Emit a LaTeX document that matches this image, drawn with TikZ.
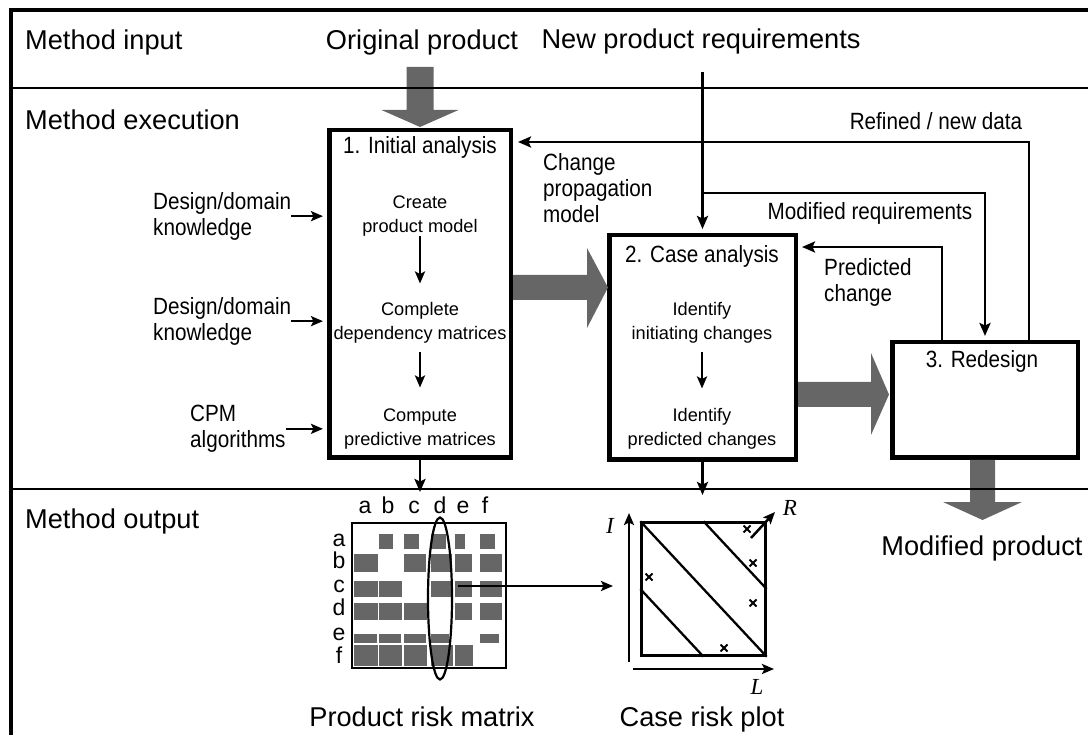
\documentclass[tikz,border=0pt]{standalone}
\usepackage{fontspec}
\setmainfont{Liberation Sans}
\newfontfamily\midf[FakeStretch=0.88]{Liberation Sans}
\newfontfamily\tmsf{Liberation Serif}
\usetikzlibrary{arrows.meta}
\definecolor{blockgray}{RGB}{102,102,102}
\begin{document}
\begin{tikzpicture}[x=1pt,y=-1pt,
  big/.style={font=\fontsize{27.2}{32}\selectfont, inner sep=0pt},
  mid/.style={font=\midf\fontsize{23.5}{26}\selectfont, inner sep=0pt, align=left},
  sml/.style={font=\fontsize{18.2}{24}\selectfont, inner sep=0pt, align=center},
  lett/.style={font=\fontsize{23}{26}\selectfont, inner sep=0pt},
  axl/.style={font=\tmsf\itshape\fontsize{23}{26}\selectfont, inner sep=0pt},
  procbox/.style={draw, line width=4.5pt, inner sep=0pt},
  arr/.style={line width=2.8pt, -{Stealth[length=13pt,width=11pt,inset=2.5pt]}},
  sarr/.style={line width=2.5pt, -{Stealth[length=12pt,width=10pt,inset=2.5pt]}},
  blk/.style={fill=blockgray},
  cell/.style={fill=blockgray, draw=white, line width=0.8pt},
  cross/.style={line width=2pt}
]
\useasboundingbox (0,0) rectangle (1088,735);

% ---- section labels
\node[big, anchor=base west] (lin)  at (25,50)  {Method input};
\node[big, anchor=base west] (lex)  at (25,130) {Method execution};
\node[big, anchor=base west] (lout) at (25,528) {Method output};
\node[big, anchor=base] (orig) at (422,50) {Original product};
\node[big, anchor=base] (npr)  at (701,49) {New product requirements};
\node[big, anchor=base] (modp) at (982,555) {Modified product};
\node[big, anchor=base] (prm)  at (422,726) {Product risk matrix};
\node[big, anchor=base] (crp)  at (702,726) {Case risk plot};

% ---- process boxes
\node[procbox, minimum width=181.5pt, minimum height=327.5pt] (box1) at (420,294) {};
\node[procbox, minimum width=186.5pt, minimum height=224.5pt] (box2) at (702.5,347.5) {};
\node[procbox, minimum width=185.5pt, minimum height=115.5pt] (box3) at (985,400) {};

\node[mid, anchor=base] (t1) at (420,154) {1. Initial analysis};
\node[mid, anchor=base] (t2) at (702,263) {2. Case analysis};
\node[mid, anchor=base] (t3) at (982,368) {3. Redesign};

\node[sml, anchor=north] (create)   at (420,195.5) {Create\\product model};
\node[sml, anchor=north] (complete) at (420,302.5) {Complete\\dependency matrices};
\node[sml, anchor=north] (compute)  at (420,408.5) {Compute\\predictive matrices};
\node[sml, anchor=north] (ini)  at (702,302.5) {Identify\\initiating changes};
\node[sml, anchor=north] (pred) at (702,408.5) {Identify\\predicted changes};

\draw[sarr, shorten >=19pt] (create.south) -- (complete.north);
\draw[sarr, shorten <=8pt, shorten >=21pt] (complete.south) -- (compute.north);
\draw[sarr, shorten <=8pt, shorten >=20pt] (ini.south) -- (pred.north);

% ---- left inputs
\node[mid, anchor=north west] (dk1) at (153,192) {Design/domain\\knowledge};
\node[mid, anchor=north west] (dk2) at (153,297) {Design/domain\\knowledge};
\node[mid, anchor=north west] (cpm) at (190,405) {CPM\\algorithms};
\draw[sarr, shorten >=4pt] (dk1.east) -- (dk1.east -| box1.west);
\draw[sarr, shorten >=4pt] (dk2.east) -- (dk2.east -| box1.west);
\draw[sarr, shorten >=4pt] (cpm.east) -- (cpm.east -| box1.west);

% ---- gray block arrows
\fill[blk] ([shift={(-13.5,-61)}]box1.north) -- ([shift={(13.5,-61)}]box1.north)
  -- ([shift={(13.5,-18)}]box1.north) -- ([shift={(38.5,-18)}]box1.north)
  -- ([shift={(0,-1)}]box1.north) -- ([shift={(-38.5,-18)}]box1.north)
  -- ([shift={(-13.5,-18)}]box1.north) -- cycle;
\fill[blk] ([shift={(0,-19)}]box1.east) -- ([shift={(74,-19)}]box1.east)
  -- ([shift={(74,-46)}]box1.east) -- ([shift={(95,-6.5)}]box1.east)
  -- ([shift={(74,34)}]box1.east) -- ([shift={(74,6)}]box1.east)
  -- ([shift={(0,6)}]box1.east) -- cycle;
\fill[blk] ([shift={(0,34.5)}]box2.east) -- ([shift={(73,34.5)}]box2.east)
  -- ([shift={(73,5.5)}]box2.east) -- ([shift={(91,47)}]box2.east)
  -- ([shift={(73,87.5)}]box2.east) -- ([shift={(73,59.5)}]box2.east)
  -- ([shift={(0,59.5)}]box2.east) -- cycle;
\fill[blk] ([shift={(-15,0)}]box3.south) -- ([shift={(10,0)}]box3.south)
  -- ([shift={(10,42)}]box3.south) -- ([shift={(37,42)}]box3.south)
  -- ([shift={(-2.5,60)}]box3.south) -- ([shift={(-42,42)}]box3.south)
  -- ([shift={(-15,42)}]box3.south) -- cycle;

% ---- frame
\draw[line width=4pt] (1088,10) -- (11,10) -- (11,735);
\draw[line width=1.7pt] (11,88) -- (1088,88);
\draw[line width=1.7pt] (11,489) -- (1088,489);

% ---- connectors
\draw[arr, shorten <=17pt, shorten >=4pt] (npr.south -| box2.north) -- (box2.north);
\path (box2.north) ++(0,-40) coordinate (jmr);
\draw[arr, shorten >=4pt] (jmr) -| (box3.north);
\draw[arr, shorten >=5pt] ([xshift=44pt]box3.north) |- ([yshift=-14pt]box1.north east);
\draw[arr, shorten >=4pt] ([xshift=-43pt]box3.north) |- ([yshift=-14pt]box2.north east);

\node[mid, anchor=base] (lref) at (936,130) {Refined / new data};
\node[mid, anchor=base] (lmod) at (870,220) {Modified requirements};
\node[mid, anchor=north west] (lcpm) at (543,153) {Change\\propagation\\model};
\node[mid, anchor=north west] (lpc) at (824,258) {Predicted\\change};

\path (box1.south) ++(0,32) coordinate (m1);
\path (box2.south) ++(0,33) coordinate (p1);
\draw[arr] (box1.south) -- (m1);
\draw[arr] (box2.south) -- (p1);

% ---- product risk matrix
\foreach \xa/\xb/\ya/\yb in {
  378/393/533/549, 403/419/533/549, 430/446/533/549, 454/465/533/549, 479/495/533/549,
  353/378/553/572, 403/426/553/572, 430/452/553/572, 454/472/553/572, 479/502/553/572,
  353/378/580/597, 378/402/580/597, 430/452/580/597, 454/472/580/597, 479/502/580/597,
  353/378/602/620, 378/402/602/620, 403/427/602/620, 454/472/602/620, 479/502/602/620,
  353/377/633/643, 378/401/633/643, 403/426/633/643, 430/449/633/643, 479/499/633/643,
  353/378/644/666, 378/402/644/666, 403/427/644/666, 430/453/644/666, 454/473/644/666}
  \filldraw[cell] (\xa,\ya) rectangle (\xb,\yb);
\node[draw, line width=2.2pt, minimum width=154pt, minimum height=145pt, inner sep=0pt] (mat) at (429,595.5) {};
\foreach \l/\x in {a/365,b/388,c/414,d/440,e/463,f/485}
  \node[lett, anchor=base] (col\l) at (\x,513) {\l};
\foreach \l/\y in {a/546,b/568,c/592,d/615,e/640,f/663}
  \node[lett, anchor=base] (row\l) at (339,\y) {\l};
\draw[line width=2.2pt] (440,598.5) ellipse [x radius=12pt, y radius=81pt];

% ---- case risk plot
\node[draw, line width=2.3pt, minimum width=124pt, minimum height=133pt, inner sep=0pt] (plot) at (703.5,589) {};
\draw[line width=2.3pt] (plot.north west) -- (plot.south east);
\draw[line width=2.3pt] (plot.north) -- (plot.east);
\draw[line width=2.3pt] (plot.west) -- (plot.south);
\foreach \cx/\cy in {747/529,753/563,649/577,753/603,724/648}
  \draw[cross] (\cx-3.5,\cy-3.5) -- (\cx+3.5,\cy+3.5) (\cx-3.5,\cy+3.5) -- (\cx+3.5,\cy-3.5);
\draw[sarr] (629,662) -- (629,513);
\draw[sarr] (633,669) -- (774,669);
\draw[sarr] (751,538) -- (775,512);
\node[axl] (lI) at (610,526) {I};
\node[axl] (lL) at (757,687) {L};
\node[axl] (lR) at (790,508) {R};

\coordinate (mc) at (458,586);
\coordinate (pin) at (613,586);
\draw[sarr] (mc) -- (pin);
\end{tikzpicture}
\end{document}
